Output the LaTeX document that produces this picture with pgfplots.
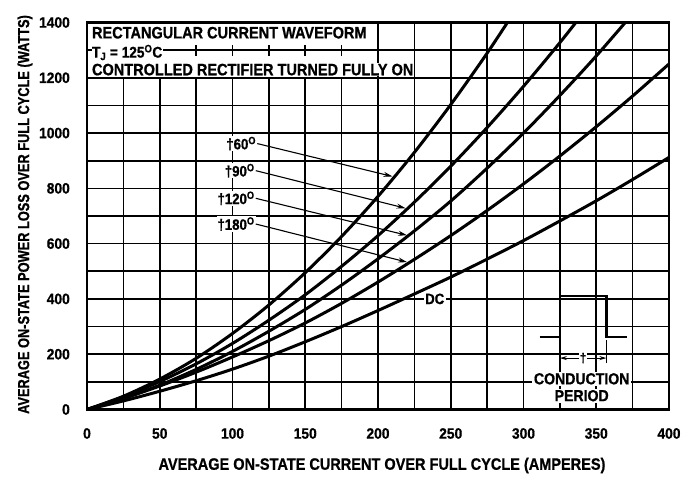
\documentclass[border=0pt]{standalone}
\usepackage{fontspec}
\setmainfont{Liberation Sans}
\newfontfamily\fA[FakeStretch=0.88, BoldFeatures={FakeBold=0.8}]{Liberation Sans}
\newfontfamily\fT[FakeStretch=0.92, BoldFeatures={FakeBold=0.8}]{Liberation Sans}
\newfontfamily\fY[FakeStretch=0.8, BoldFeatures={FakeBold=0.8}]{Liberation Sans}
\usepackage{pgfplots}
\pgfplotsset{compat=1.18}
\usetikzlibrary{arrows.meta}

\begin{document}
\begin{tikzpicture}
\path[use as bounding box] (-87pt,-67pt) rectangle (602pt,409.5pt);
\fill[white] (-87pt,-67pt) rectangle (602pt,409.5pt);
\begin{axis}[
  at={(0,0)}, anchor=south west,
  scale only axis, width=582pt, height=387pt,
  xmin=0, xmax=400, ymin=0, ymax=1400,
  xtick={0,50,...,400}, minor xtick={25,75,...,375},
  ytick={0,200,...,1400}, minor ytick={100,300,...,1300},
  grid=both,
  major grid style={black, line width=1.7pt},
  minor grid style={black, line width=1.7pt},
  axis line style={line width=2.2pt},
  tick style={draw=none},
  /pgf/number format/assume math mode=true,
  /pgf/number format/1000 sep={},
  ticklabel style={font=\fT\bfseries\fontsize{15}{15}\selectfont},
  xticklabel style={anchor=center, yshift=-24pt},
  yticklabel style={anchor=east, inner sep=0pt, xshift=-17pt},
]
% header box
\fill[white] (axis cs:1.5,1203) rectangle (axis cs:197,1396);
\draw[line width=1.7pt] (axis cs:0,1300) -- (axis cs:197,1300);
\draw[line width=1.7pt] (axis cs:75,1280) -- (axis cs:75,1320);
\draw[line width=1.7pt] (axis cs:100,1280) -- (axis cs:100,1320);
\draw[line width=1.7pt] (axis cs:125,1280) -- (axis cs:125,1320);
\draw[line width=1.7pt] (axis cs:150,1280) -- (axis cs:150,1320);
\draw[line width=1.7pt] (axis cs:175,1280) -- (axis cs:175,1320);
\node[anchor=west, font=\fA\bfseries\fontsize{16.5}{16.5}\selectfont, inner sep=0.5pt]
  at (axis cs:3,1363) {RECTANGULAR CURRENT WAVEFORM};
\node[anchor=base west, fill=white, font=\fA\bfseries\fontsize{15.5}{15.5}\selectfont, inner sep=0.5pt]
  at (axis cs:3,1273) {T\textsubscript{J} = 125\textsuperscript{O}C};
\node[anchor=base west, fill=white, font=\fA\bfseries\fontsize{16.5}{16.5}\selectfont, inner sep=0.5pt]
  at (axis cs:3,1209) {CONTROLLED RECTIFIER TURNED FULLY ON};

% angle labels and arrows
\tikzset{lab/.style={anchor=east, fill=white, inner sep=1pt, font=\fA\bfseries\fontsize{15}{15}\selectfont},
         arr/.style={line width=1.1pt, -{Stealth[length=9pt,width=5pt]}}}
\node[lab] at (axis cs:117,962) {†60\textsuperscript{O}};
\draw[arr] (axis cs:117,962) -- (axis cs:210,843);
\node[lab] at (axis cs:116,864) {†90\textsuperscript{O}};
\draw[arr] (axis cs:116,864) -- (axis cs:219,728);
\node[lab] at (axis cs:116,764) {†120\textsuperscript{O}};
\draw[arr] (axis cs:116,764) -- (axis cs:220,630);
\node[lab] at (axis cs:116,671) {†180\textsuperscript{O}};
\draw[arr] (axis cs:116,671) -- (axis cs:220,533);
\node[fill=white, inner sep=1.5pt, font=\fA\bfseries\fontsize{15}{15}\selectfont] at (axis cs:239,400) {DC};

% waveform inset
\draw[line width=2.4pt] (axis cs:311,262) -- (axis cs:325,262) -- (axis cs:325,410) -- (axis cs:357,410) -- (axis cs:357,262) -- (axis cs:371,262);
\draw[line width=1.3pt] (axis cs:325,262) -- (axis cs:325,165);
\draw[line width=1.3pt] (axis cs:357,250) -- (axis cs:357,170);
\draw[line width=1.1pt, {Stealth[length=7pt,width=4pt]}-{Stealth[length=7pt,width=4pt]}] (axis cs:325,186) -- (axis cs:357,186);
\node[fill=white, inner sep=0.5pt, font=\fA\bfseries\fontsize{13}{13}\selectfont] at (axis cs:341,186) {†};
\node[fill=white, inner sep=1.5pt, font=\fA\bfseries\fontsize{16}{16}\selectfont] at (axis cs:340,111) {CONDUCTION};
\node[fill=white, inner sep=1.5pt, font=\fA\bfseries\fontsize{16}{16}\selectfont] at (axis cs:340,50) {PERIOD};

% curves
\addplot[black, line width=3pt, smooth] coordinates {
 (0,0) (25,48) (50,110) (75,185) (100,275) (125,378) (150,495) (175,626) (200,771) (225,930) (250,1103) (275,1289) (295,1449)};
\addplot[black, line width=3pt, smooth] coordinates {
 (0,0) (25,46) (50,101) (75,165) (100,239) (125,323) (150,415) (175,518) (200,629) (225,750) (250,880) (275,1020) (300,1169) (325,1327) (345,1461)};
\addplot[black, line width=3pt, smooth] coordinates {
 (0,0) (25,40) (50,88) (75,145) (100,210) (125,283) (150,362) (175,450) (200,545) (225,646) (250,754) (275,873) (300,1000) (325,1136) (350,1279) (375,1431)};
\addplot[black, line width=3pt, smooth] coordinates {
 (0,0) (25,40) (50,85) (75,135) (100,190) (125,249) (150,313) (175,384) (200,461) (225,543) (250,629) (275,720) (300,816) (325,917) (350,1023) (375,1134) (400,1250)};
\addplot[black, line width=3pt, smooth] coordinates {
 (0,0) (25,31) (50,66) (75,104) (100,146) (125,193) (150,245) (175,300) (200,358) (225,418) (250,479) (275,544) (300,611) (325,682) (350,755) (375,832) (400,912)};
\end{axis}
\node[font=\fA\bfseries\fontsize{16.5}{16.5}\selectfont] at (295pt,-56pt) {AVERAGE ON-STATE CURRENT OVER FULL CYCLE (AMPERES)};
\node[rotate=90, font=\fY\bfseries\fontsize{16}{16}\selectfont] at (-62pt,195pt) {AVERAGE ON-STATE POWER LOSS OVER FULL CYCLE (WATTS)};
\end{tikzpicture}
\end{document}
